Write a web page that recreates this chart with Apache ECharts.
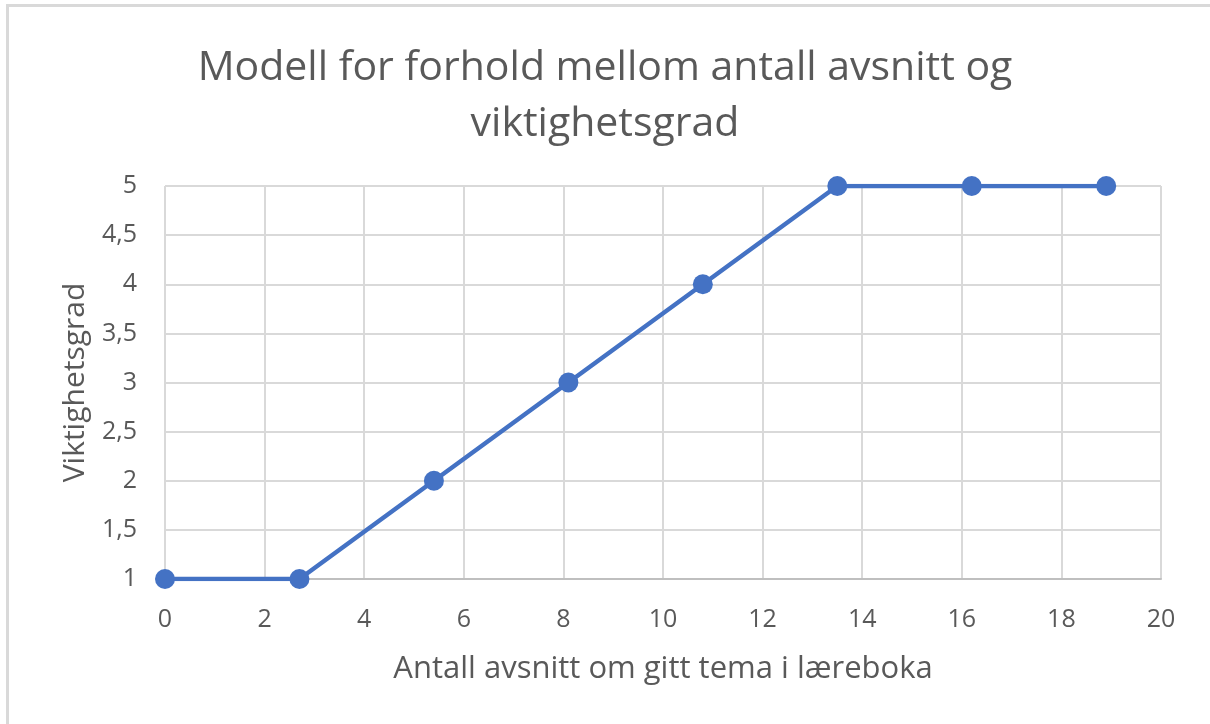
<!DOCTYPE html>
<html lang="no">
<head>
    <meta charset="UTF-8">
    <title>Viktighetsgrad</title>
    <script src="https://cdn.jsdelivr.net/npm/echarts@6/dist/echarts.min.js"></script>
</head>
<style>
html,body{margin:0;padding:0;background-color:#ffffff;overflow:hidden}
#chartBox{width:1210px;height:724px;position:absolute;left:0;top:0}
#frame{position:absolute;left:6px;top:4px;width:1300px;height:800px;border-top:3px solid #d9d9d9;border-left:3px solid #d9d9d9}
</style>
<body>
    <div id="frame"></div>
    <div id="chartBox"></div>
</body>
<script>
// data
const avsnitt = [0, 2.7, 5.4, 8.1, 10.8, 13.5, 16.2, 18.9];
const viktighet = [1, 1, 2, 3, 4, 5, 5, 5];
const xTicks = [0, 2, 4, 6, 8, 10, 12, 14, 16, 18, 20];
const yTicks = [1, 1.5, 2, 2.5, 3, 3.5, 4, 4.5, 5];

const fontName = '"Open Sans", "Noto Sans", sans-serif';

let chartObj = echarts.init(document.getElementById('chartBox'));
let option = {
    textStyle: {fontFamily: fontName},
    title: {
        text: 'Modell for forhold mellom antall avsnitt og\nviktighetsgrad',
        left: 'center',
        top: 35,
        textStyle: {
            fontFamily: fontName,
            fontSize: 41,
            fontWeight: 'normal',
            color: '#595959',
            lineHeight: 56
        }
    },
    grid: {
        left: 165,
        right: 49,
        top: 186,
        bottom: 145
    },
    xAxis: {
        type: 'value',
        min: xTicks[0],
        max: xTicks[xTicks.length - 1],
        interval: 2,
        name: 'Antall avsnitt om gitt tema i læreboka',
        nameLocation: 'center',
        nameGap: 75,
        nameTextStyle: {fontFamily: fontName, fontSize: 31, color: '#595959'},
        axisLine: {show: true, lineStyle: {color: '#bfbfbf', width: 2}},
        axisTick: {show: false},
        axisLabel: {fontFamily: fontName, fontSize: 25, color: '#595959', margin: 28},
        splitLine: {show: true, lineStyle: {color: '#d9d9d9', width: 2}}
    },
    yAxis: {
        type: 'value',
        min: yTicks[0],
        max: yTicks[yTicks.length - 1],
        interval: 0.5,
        name: 'Viktighetsgrad',
        nameLocation: 'center',
        nameGap: 75,
        nameTextStyle: {fontFamily: fontName, fontSize: 30, color: '#595959'},
        axisLine: {show: false},
        axisTick: {show: false},
        axisLabel: {
            fontFamily: fontName, fontSize: 25, color: '#595959', margin: 28,
            formatter: v => String(v).replace('.', ',')
        },
        splitLine: {show: true, lineStyle: {color: '#d9d9d9', width: 2}}
    },
    series: [{
        type: 'line',
        data: avsnitt.map((x, i) => [x, viktighet[i]]),
        symbol: 'circle',
        symbolSize: 20,
        itemStyle: {color: '#4472c4'},
        lineStyle: {color: '#4472c4', width: 4.5},
        animation: false
    }],
    animation: false
};
chartObj.setOption(option);
</script>
</html>
